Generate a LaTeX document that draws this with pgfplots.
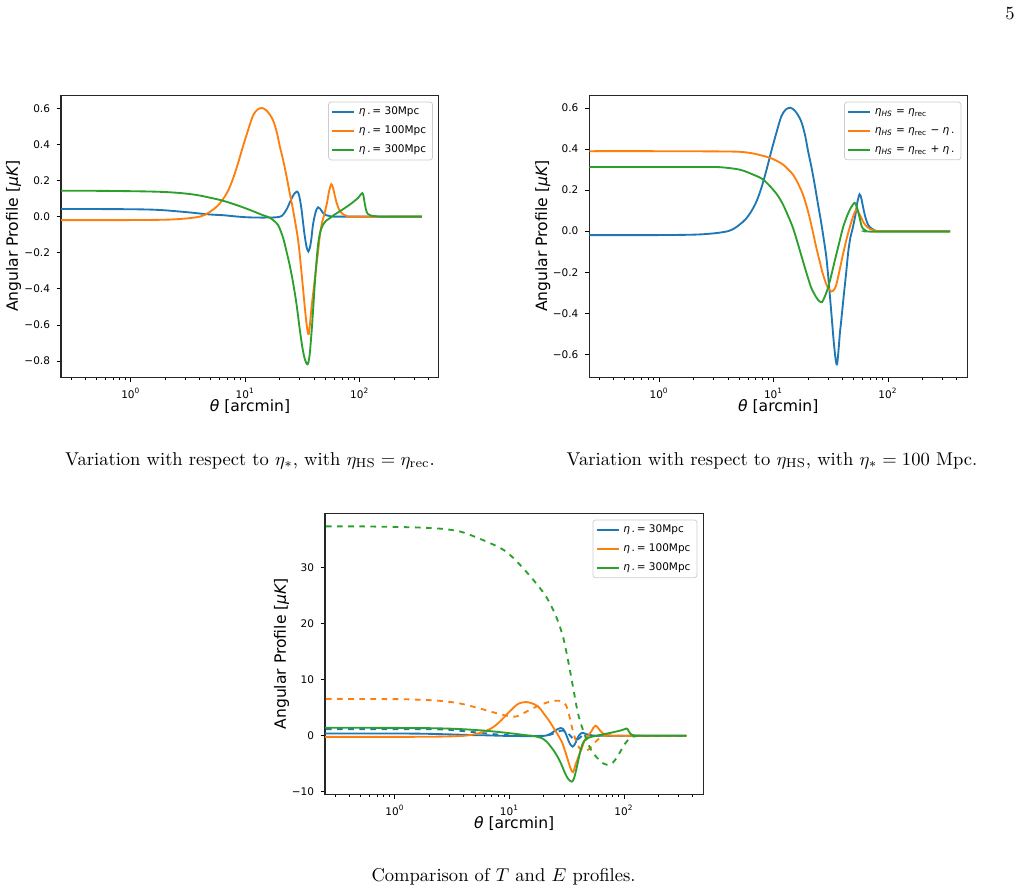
\documentclass[border=0pt]{standalone}
\usepackage{fontspec}
\usepackage{pgfplots}
\usepackage{pgfplotstable}
\pgfplotsset{compat=1.18}
\newfontfamily\dejavu{DejaVu Sans}
\definecolor{tabblue}{HTML}{1F77B4}
\definecolor{taborange}{HTML}{FF7F0E}
\definecolor{tabgreen}{HTML}{2CA02C}

% plot 1: eta_* = 30 Mpc
\pgfplotstableread{
x y
0.2 0.042
0.5 0.042
1.0 0.041
1.5 0.039
2.0 0.035
2.7 0.028
3.3 0.023
4.5 0.014
5.5 0.010
6.4 0.008
8 0.002
10 -0.003
12.5 -0.005
16 -0.005
19 -0.003
21 0.005
23 0.040
25 0.090
26.5 0.122
28.3 0.139
29.5 0.12
30.9 0.05
32 -0.03
33 -0.10
34.3 -0.165
35.6 -0.193
36.8 -0.17
37.9 -0.12
39 -0.05
40.5 0.005
42 0.04
43.3 0.052
45 0.045
47.9 0.02
51 0.008
55 0.003
65 0.000
350 0.000
}\tblA
% eta_* = 100 Mpc (also eta_HS = eta_rec)
\pgfplotstableread{
x y
0.2 -0.019
1 -0.019
2 -0.017
2.7 -0.013
3.3 -0.008
4.0 0.000
4.5 0.012
5.0 0.030
5.7 0.058
6.4 0.097
7.1 0.145
7.8 0.208
8.6 0.29
9.6 0.393
10.6 0.48
11.7 0.56
12.8 0.593
14.1 0.602
15.5 0.585
16.8 0.555
17.8 0.522
19 0.46
20 0.393
21.5 0.31
22.9 0.227
24.5 0.13
26.1 0.042
27.5 -0.04
29.0 -0.13
30.5 -0.26
32.0 -0.397
33.5 -0.53
34.8 -0.62
35.9 -0.65
37 -0.58
38 -0.50
39.1 -0.434
41 -0.32
43.3 -0.194
45 -0.10
47 -0.03
49 0.01
52 0.08
54 0.14
56.5 0.180
58.5 0.16
60.5 0.12
62.7 0.08
66 0.04
69.4 0.02
76.8 0.004
90 0.000
350 0.000
}\tblB
% eta_* = 300 Mpc
\pgfplotstableread{
x y
0.2 0.143
0.5 0.143
1.0 0.141
1.5 0.139
2.05 0.136
2.68 0.131
3.3 0.125
4.0 0.117
5.0 0.104
5.7 0.096
6.4 0.088
7.3 0.077
8.96 0.058
11 0.037
12.5 0.023
14 0.010
16.3 -0.005
18 -0.025
19.3 -0.045
20 -0.065
21.5 -0.12
22.9 -0.19
24.5 -0.27
26.1 -0.36
28 -0.48
29.9 -0.619
31.5 -0.72
33.2 -0.79
35.1 -0.818
36.5 -0.77
38 -0.64
39.1 -0.527
41 -0.33
43.3 -0.156
45.5 -0.08
47.9 -0.045
51 -0.022
55 -0.008
60 0.010
66.8 0.029
74 0.047
81.7 0.066
89 0.084
96.6 0.103
101 0.118
105.5 0.130
108 0.115
111 0.07
114 0.035
118 0.015
125 0.006
140 0.002
160 0.000
350 0.000
}\tblC
% eta_HS = eta_rec - eta_*
\pgfplotstableread{
x y
0.2 0.390
1 0.390
3 0.389
5.06 0.387
6.62 0.379
8 0.368
9.27 0.358
10.5 0.345
12.1 0.325
13.5 0.30
14.8 0.276
16.3 0.235
18.1 0.178
19.5 0.12
20.7 0.065
22.2 -0.01
23.7 -0.082
25.4 -0.15
27.1 -0.212
29.5 -0.27
32.0 -0.294
33.8 -0.285
35.4 -0.261
37.8 -0.19
40.4 -0.115
43.2 -0.045
46.2 0.016
49.5 0.07
52.8 0.105
55.5 0.09
58.5 0.065
61.5 0.04
64.9 0.024
70 0.01
76 0.004
90 0.000
350 0.000
}\tblD
% eta_HS = eta_rec + eta_*
\pgfplotstableread{
x y
0.2 0.313
1 0.313
2 0.313
3.39 0.312
5.06 0.300
6.62 0.276
8.1 0.252
9.9 0.203
11 0.17
12.1 0.13
13.4 0.075
14.8 0.016
16.4 -0.065
18.1 -0.147
19.7 -0.215
21.4 -0.277
23.5 -0.32
25 -0.34
26.5 -0.346
28 -0.32
29.9 -0.277
32 -0.215
34.2 -0.147
37.2 -0.065
40.4 0.016
44 0.075
47.5 0.115
51.3 0.138
54 0.11
56.6 0.065
58.5 0.03
60.6 0.012
64 0.003
70 -0.002
350 -0.002
}\tblE
% E profiles (dashed), eta_* = 300 Mpc
\pgfplotstableread{
x y
0.2 37.4
0.5 37.4
1.0 37.3
1.6 37.2
2.47 37.0
3.69 36.5
5.5 35.2
8.23 33.6
10 32.4
12.3 30.6
16.1 27.9
21.0 24.8
25.7 21.2
29.4 17.65
32.5 13.5
35.9 8.74
39.7 4.0
43.9 1.03
48.5 -1.34
52 -2.6
57.1 -3.72
65.6 -4.9
73.7 -5.2
80 -4.8
85.8 -4.0
92 -3.0
98.2 -1.94
105 -1.1
112.3 -0.45
120 -0.15
130 -0.03
150 0.0
350 0.0
}\tblF
% E profile, eta_* = 100 Mpc
\pgfplotstableread{
x y
0.2 6.6
1 6.55
1.6 6.45
2.47 6.25
3.69 5.78
5.5 4.89
8.23 3.88
10.7 3.4
12.3 3.65
14.0 4.29
16 4.9
18.4 5.48
21 5.9
24.0 6.2
27.4 6.25
30.4 5.78
32 4.9
33.5 3.4
35.2 1.5
37.0 -0.15
38.8 -1.3
40.9 -2.23
43.5 -2.6
46.8 -2.65
50 -2.3
53.5 -1.64
57 -1.0
61.2 -0.45
66 -0.15
70 0.05
80 0.0
350 0.0
}\tblG
% E profile, eta_* = 30 Mpc
\pgfplotstableread{
x y
0.2 1.2
1 1.18
2.47 1.15
3.69 0.9
5.5 0.55
8.23 0.2
12.3 0.02
18.4 -0.02
22 0.1
25 0.5
28 0.9
30.5 0.85
33 0.3
35.5 -0.4
38 -0.75
40.5 -0.5
43 0.0
46 0.3
49 0.2
53 0.05
60 0.0
350 0.0
}\tblH

\newcommand\tickfont{\dejavu\fontsize{5.66}{6.5}\selectfont}
\newcommand\labfont{\dejavu\fontsize{8.4}{10}\selectfont}

\pgfplotsset{
  legend image code/.code={\draw[#1] (0pt,0pt) -- (11.9pt,0pt);},
}

\begin{document}
\begin{tikzpicture}
\path[use as bounding box] (0,0) rectangle (550.86pt,480.25pt);

% Plot 1
\begin{axis}[xmode=log,
    scale only axis,
    width=203.7pt, height=152pt,
    xmin=0.2455, xmax=493,
    xtick={1,10,100},
    xticklabels={10\textsuperscript{0},10\textsuperscript{1},10\textsuperscript{2}},
    minor xtick={0.3,0.4,0.5,0.6,0.7,0.8,0.9,2,3,4,5,6,7,8,9,20,30,40,50,60,70,80,90,200,300,400},
    xtick pos=bottom, ytick pos=left,
    tick align=outside,
    major tick length=2.4pt, minor tick length=1.35pt,
    every tick/.style={black, line width=0.45pt},
    axis line style={black!85, line width=0.6pt},
    tick label style={font=\tickfont},
    xlabel={{\itshape θ} [arcmin]},
    ylabel={Angular Profile [{\itshape μK}]},
    every axis x label/.style={at={(axis description cs:0.5,-0.102)}, anchor=center, font=\labfont},
    legend cell align=left,
    legend style={at={(1,1)}, anchor=north east, xshift=-3.2pt, yshift=-3.4pt,
      draw=black!20, rounded corners=1.5pt, fill=white, fill opacity=0.8, text opacity=1,
      font=\tickfont, inner xsep=1.5pt, inner ysep=0.4pt, row sep=0.5pt,
      nodes={text height=4.4pt, text depth=1.4pt}},
    every axis plot/.append style={line width=1pt, smooth, tension=0.5},
  at={(32.88pt,276.88pt)}, anchor=south west,
  ymin=-0.890, ymax=0.672,
  ytick={-0.8,-0.6,-0.4,-0.2,0,0.2,0.4,0.6},
  yticklabels={−0.8,−0.6,−0.4,−0.2,0.0,0.2,0.4,0.6},
  every axis y label/.style={at={(axis description cs:-0.1257,0.5)}, rotate=90, anchor=center, font=\labfont},
]
\addplot[tabblue] table[x=x,y=y] {\tblA};
\addlegendentry{{\itshape η}\,.\,= 30Mpc}
\addplot[taborange] table[x=x,y=y] {\tblB};
\addlegendentry{{\itshape η}\,.\,= 100Mpc}
\addplot[tabgreen] table[x=x,y=y] {\tblC};
\addlegendentry{{\itshape η}\,.\,= 300Mpc}
\end{axis}

% Plot 2
\begin{axis}[xmode=log,
    scale only axis,
    width=203.7pt, height=152pt,
    xmin=0.2455, xmax=493,
    xtick={1,10,100},
    xticklabels={10\textsuperscript{0},10\textsuperscript{1},10\textsuperscript{2}},
    minor xtick={0.3,0.4,0.5,0.6,0.7,0.8,0.9,2,3,4,5,6,7,8,9,20,30,40,50,60,70,80,90,200,300,400},
    xtick pos=bottom, ytick pos=left,
    tick align=outside,
    major tick length=2.4pt, minor tick length=1.35pt,
    every tick/.style={black, line width=0.45pt},
    axis line style={black!85, line width=0.6pt},
    tick label style={font=\tickfont},
    xlabel={{\itshape θ} [arcmin]},
    ylabel={Angular Profile [{\itshape μK}]},
    every axis x label/.style={at={(axis description cs:0.5,-0.102)}, anchor=center, font=\labfont},
    legend cell align=left,
    legend style={at={(1,1)}, anchor=north east, xshift=-3.2pt, yshift=-3.4pt,
      draw=black!20, rounded corners=1.5pt, fill=white, fill opacity=0.8, text opacity=1,
      font=\tickfont, inner xsep=1.5pt, inner ysep=0.4pt, row sep=0.5pt,
      nodes={text height=4.4pt, text depth=1.4pt}},
    every axis plot/.append style={line width=1pt, smooth, tension=0.5},
  at={(317.63pt,276.88pt)}, anchor=south west,
  ymin=-0.7125, ymax=0.6625,
  ytick={-0.6,-0.4,-0.2,0,0.2,0.4,0.6},
  yticklabels={−0.6,−0.4,−0.2,0.0,0.2,0.4,0.6},
  every axis y label/.style={at={(axis description cs:-0.123,0.5)}, rotate=90, anchor=center, font=\labfont},
]
\addplot[tabblue] table[x=x,y=y] {\tblB};
\addlegendentry{{\itshape η\textsubscript{HS}} = {\itshape η}\textsubscript{rec}}
\addplot[taborange] table[x=x,y=y] {\tblD};
\addlegendentry{{\itshape η\textsubscript{HS}} = {\itshape η}\textsubscript{rec} − {\itshape η}\,.}
\addplot[tabgreen] table[x=x,y=y] {\tblE};
\addlegendentry{{\itshape η\textsubscript{HS}} = {\itshape η}\textsubscript{rec} + {\itshape η}\,.}
\end{axis}

% Plot 3
\begin{axis}[xmode=log,
    scale only axis,
    width=203.9pt, height=151.5pt,
    xmin=0.2455, xmax=493,
    xtick={1,10,100},
    xticklabels={10\textsuperscript{0},10\textsuperscript{1},10\textsuperscript{2}},
    minor xtick={0.3,0.4,0.5,0.6,0.7,0.8,0.9,2,3,4,5,6,7,8,9,20,30,40,50,60,70,80,90,200,300,400},
    xtick pos=bottom, ytick pos=left,
    tick align=outside,
    major tick length=2.4pt, minor tick length=1.35pt,
    every tick/.style={black, line width=0.45pt},
    axis line style={black!85, line width=0.6pt},
    tick label style={font=\tickfont},
    xlabel={{\itshape θ} [arcmin]},
    ylabel={Angular Profile [{\itshape μK}]},
    every axis x label/.style={at={(axis description cs:0.5,-0.103)}, anchor=center, font=\labfont},
    legend cell align=left,
    legend style={at={(1,1)}, anchor=north east, xshift=-3.2pt, yshift=-3.4pt,
      draw=black!20, rounded corners=1.5pt, fill=white, fill opacity=0.8, text opacity=1,
      font=\tickfont, inner xsep=1.5pt, inner ysep=0.4pt, row sep=0.5pt,
      nodes={text height=4.4pt, text depth=1.4pt}},
    every axis plot/.append style={line width=1pt, smooth, tension=0.5},
  at={(175.18pt,52.12pt)}, anchor=south west,
  ymin=-10.45, ymax=39.75,
  ytick={-10,0,10,20,30},
  yticklabels={−10,0,10,20,30},
  every axis y label/.style={at={(axis description cs:-0.115,0.5)}, rotate=90, anchor=center, font=\labfont},
]
\addplot[tabblue] table[x=x,y expr=10*\thisrow{y}] {\tblA};
\addlegendentry{{\itshape η}\,.\,= 30Mpc}
\addplot[tabblue, dashed, forget plot] table[x=x,y=y] {\tblH};
\addplot[taborange] table[x=x,y expr=10*\thisrow{y}] {\tblB};
\addlegendentry{{\itshape η}\,.\,= 100Mpc}
\addplot[taborange, dashed, forget plot] table[x=x,y=y] {\tblG};
\addplot[tabgreen] table[x=x,y expr=10*\thisrow{y}] {\tblC};
\addlegendentry{{\itshape η}\,.\,= 300Mpc}
\addplot[tabgreen, dashed, forget plot] table[x=x,y=y] {\tblF};
\end{axis}

% captions
\node[anchor=base] at (134.75pt,229.6pt) {Variation with respect to $\eta_*$, with $\eta_{\mathrm{HS}} = \eta_{\mathrm{rec}}$.};
\node[anchor=base] at (416.1pt,229.6pt) {Variation with respect to $\eta_{\mathrm{HS}}$, with $\eta_* = 100$ Mpc.};
\node[anchor=base] at (271.4pt,5.07pt) {Comparison of $T$ and $E$ profiles.};
\node[anchor=base] at (544.4pt,469.7pt) {5};
\end{tikzpicture}
\end{document}
